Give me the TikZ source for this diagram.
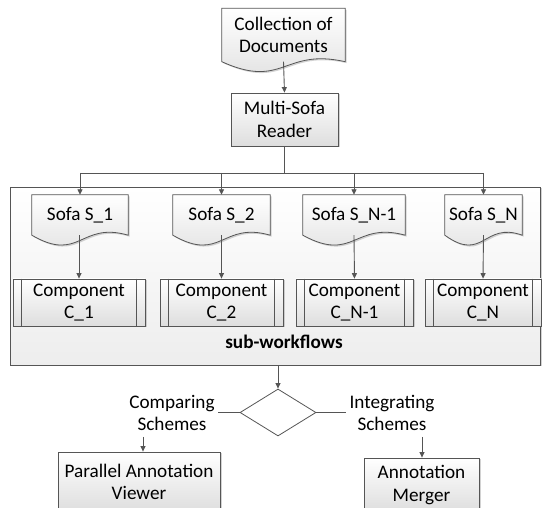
\documentclass[tikz,border=0pt]{standalone}
\usepackage{fontspec}
\setmainfont{Carlito}
\usetikzlibrary{arrows.meta,shapes.geometric,shadows,calc}
\definecolor{ln}{HTML}{555555}
\pgfdeclarelayer{bgzero}
\pgfdeclarelayer{bgone}
\pgfsetlayers{bgzero,bgone,main}
\tikzset{
 base/.style={font=\fontsize{19.2}{22.5}\selectfont, align=center, inner sep=0pt},
 boxfill/.style={top color=white, bottom color=black!13},
 shad/.style={drop shadow={shadow xshift=1.5pt, shadow yshift=-1.5pt, fill=black!35, opacity=0.5}},
 procbox/.style={base, draw=ln, boxfill, shad, line width=0.8pt},
 docline/.style={draw=ln, boxfill, shad, line width=0.8pt},
 conn/.style={draw=ln, line width=0.9pt},
 arr/.style={conn, -{Triangle[length=5.5pt,width=5pt]}},
}
\newcommand\docshape[1]{%
 \begin{pgfonlayer}{bgone}
 \path[docline] (#1.south west) -- (#1.north west) -- (#1.north east) -- (#1.south east)
   .. controls ($(#1.south)+(0,-14)$) and ($(#1.south)+(0,28)$) .. (#1.south west) -- cycle;
 \end{pgfonlayer}}
\newcommand\procshape[1]{%
 \draw[conn,line width=0.8pt] ([xshift=9pt]#1.north west) -- ([xshift=9pt]#1.south west);
 \draw[conn,line width=0.8pt] ([xshift=-9pt]#1.north east) -- ([xshift=-9pt]#1.south east);}
\begin{document}
\begin{tikzpicture}[x=1pt,y=-1pt]
\clip (0,0) rectangle (542,508);
\useasboundingbox (0,0) rectangle (542,508);
% sub-workflows container
\begin{pgfonlayer}{bgzero}
\node[draw=ln, line width=0.8pt, top color=white, bottom color=black!7, shad,
      minimum width=530pt, minimum height=178pt, inner sep=0pt] (sw) at (275,276) {};
\end{pgfonlayer}
\node[base] (swl) at (284,342) {\bfseries sub-workflows};
% top
\node[base, minimum width=123pt, minimum height=53pt] (docs) at (283.5,35) {Collection of\\Documents};
\docshape{docs}
\node[procbox, minimum width=107pt, minimum height=53pt] (msr) at (284.5,119.5) {Multi-Sofa\\Reader};
\draw[arr] (docs.south) -- (msr.north);
% sofas
\node[base, minimum width=96pt, minimum height=40pt] (s1) at (80,215) {Sofa S\_1};
\node[base, minimum width=97pt, minimum height=40pt] (s2) at (221.5,215) {Sofa S\_2};
\node[base, minimum width=102pt, minimum height=40pt] (s3) at (354,215) {Sofa S\_N-1};
\node[base, minimum width=77pt, minimum height=40pt] (s4) at (483.5,215) {Sofa S\_N};
\docshape{s1}\docshape{s2}\docshape{s3}\docshape{s4}
% bus
\coordinate (busc) at (284.5,173);
\draw[conn] (msr.south) -- (busc);
\draw[conn] (s1.north |- busc) -- (s4.north |- busc);
\foreach \s in {s1,s2,s3,s4}{\draw[arr] (\s.north |- busc) -- (\s.north);}
% components
\node[procbox, minimum width=132pt, minimum height=47pt] (c1) at (79,302.5) {Component\\C\_1};
\node[procbox, minimum width=123pt, minimum height=47pt] (c2) at (221.5,302.5) {Component\\C\_2};
\node[procbox, minimum width=117pt, minimum height=47pt] (c3) at (354.5,302.5) {Component\\C\_N-1};
\node[procbox, minimum width=116pt, minimum height=47pt] (c4) at (483,302.5) {Component\\C\_N};
\procshape{c1}\procshape{c2}\procshape{c3}\procshape{c4}
\draw[arr] (s1.south -| c1.north) -- (c1.north);
\draw[arr] (s2.south) -- (c2.north);
\draw[arr] (s3.south) -- (c3.north);
\draw[arr] (s4.south) -- (c4.north);
% decision
\node[diamond, draw=ln, line width=0.8pt, minimum width=76pt, minimum height=47pt,
      inner sep=0pt, aspect=1.6] (dec) at (278,412.5) {};
\draw[arr] (dec.north |- sw.south) -- (dec.north);
\node[base] (cmp) at (172,413) {Comparing\\Schemes};
\node[base] (intg) at (392,413) {Integrating\\Schemes};
\draw[conn] (dec.west) -- ([xshift=3pt]cmp.east |- dec.west);
\draw[conn] (dec.east) -- ([xshift=-3pt]intg.west |- dec.east);
% outputs
\node[procbox, minimum width=162pt, minimum height=60pt] (pav) at (139,482) {Parallel Annotation\\Viewer};
\node[procbox, minimum width=115pt, minimum height=54pt] (amg) at (421.5,485) {Annotation\\Merger};
\coordinate (ca) at (143,437);
\coordinate (ia) at (422,437);
\draw[arr] (ca) -- (ca |- pav.north);
\draw[arr] (ia) -- (ia |- amg.north);
\end{tikzpicture}
\end{document}
